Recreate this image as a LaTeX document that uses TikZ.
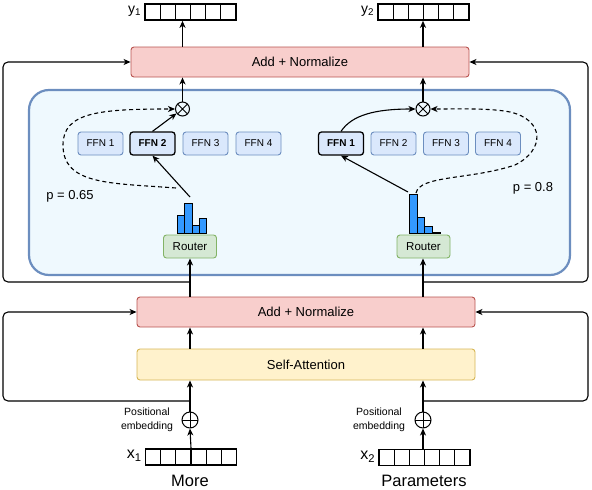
\documentclass[tikz,border=0pt]{standalone}
\usepackage{fontspec}
\setmainfont{Liberation Sans}
\usetikzlibrary{arrows.meta,calc}
\definecolor{redfill}{HTML}{F8CECC}\definecolor{reddraw}{HTML}{B85450}
\definecolor{yelfill}{HTML}{FFF2CC}\definecolor{yeldraw}{HTML}{D6B656}
\definecolor{grnfill}{HTML}{D5E8D4}\definecolor{grndraw}{HTML}{82B366}
\definecolor{bluefill}{HTML}{DAE8FC}\definecolor{bluedraw}{HTML}{6C8EBF}
\definecolor{contfill}{HTML}{EFF9FE}\definecolor{barfill}{HTML}{3399FF}
\begin{document}
\begin{tikzpicture}[x=1pt,y=-1pt,
  box/.style={rectangle,rounded corners=3pt,line width=0.9pt,minimum height=30pt,minimum width=338pt,inner sep=0pt,font=\fontsize{13}{15}\selectfont},
  addbox/.style={box,fill=redfill,draw=reddraw},
  attbox/.style={box,fill=yelfill,draw=yeldraw,minimum height=31pt},
  router/.style={rectangle,rounded corners=3pt,fill=grnfill,draw=grndraw,line width=0.9pt,minimum width=53pt,minimum height=23pt,inner sep=0pt,font=\fontsize{11.5}{13}\selectfont},
  ffn/.style={rectangle,rounded corners=3pt,fill=bluefill,draw=bluedraw,line width=0.9pt,minimum width=45pt,minimum height=23pt,inner sep=0pt,font=\fontsize{10}{12}\selectfont},
  ffnsel/.style={ffn,draw=black,line width=1.3pt,font=\fontsize{10}{12}\selectfont\bfseries},
  vec/.style={rectangle,draw=black,line width=1.6pt,minimum width=91pt,minimum height=16pt,inner sep=0pt,
    path picture={\foreach \i in {1,...,5}{\draw[line width=1.2pt] ($(path picture bounding box.south west)!\i/6!(path picture bounding box.south east)$) -- ($(path picture bounding box.north west)!\i/6!(path picture bounding box.north east)$);}}},
  otimesn/.style={circle,draw=black,line width=1pt,minimum size=14pt,inner sep=0pt,
    path picture={\draw[line width=1pt] (path picture bounding box.north west) -- (path picture bounding box.south east) (path picture bounding box.north east) -- (path picture bounding box.south west);}},
  oplusn/.style={circle,draw=black,line width=1pt,minimum size=16pt,inner sep=0pt,
    path picture={\draw[line width=1pt] (path picture bounding box.north) -- (path picture bounding box.south) (path picture bounding box.west) -- (path picture bounding box.east);}},
  conn/.style={line width=1.1pt,-{Stealth[length=7pt,width=6pt,inset=2pt]}},
  loopl/.style={line width=1.1pt,rounded corners=5pt,-{Stealth[length=7pt,width=6pt,inset=2pt]}},
  dashconn/.style={conn,dashed,dash pattern=on 4pt off 3pt},
  bar/.style={fill=barfill,draw=black,line width=0.8pt},
  lbl/.style={inner sep=0pt}
]
\useasboundingbox (0,0) rectangle (592,490);
% container
\draw[fill=contfill,draw=bluedraw,line width=2.2pt,rounded corners=20pt] (29,90) rectangle (570,275);
% boxes
\node[addbox] (topadd) at (300,62) {Add + Normalize};
\node[addbox] (lowadd) at (306,312) {Add + Normalize};
\node[attbox] (selfatt) at (306,364.5) {Self-Attention};
\node[router] (routerL) at (190,246.5) {Router};
\node[router] (routerR) at (423.5,246.5) {Router};
\node[ffn] (fL1) at (100.5,143.5) {FFN 1};
\node[ffnsel] (fL2) at (152.5,143.5) {FFN 2};
\node[ffn] (fL3) at (205.5,143.5) {FFN 3};
\node[ffn] (fL4) at (258.5,143.5) {FFN 4};
\node[ffnsel] (fR1) at (341,143.5) {FFN 1};
\node[ffn] (fR2) at (393.5,143.5) {FFN 2};
\node[ffn] (fR3) at (446,143.5) {FFN 3};
\node[ffn] (fR4) at (498,143.5) {FFN 4};
\node[otimesn] (otL) at (182.5,109) {};
\node[otimesn] (otR) at (423,109) {};
\node[vec] (y1vec) at (190.5,12) {};
\node[vec] (y2vec) at (423.5,12) {};
\node[vec] (x1vec) at (191,457) {};
\node[vec] (x2vec) at (424.5,457.5) {};
\node[oplusn] (opL) at (190,420) {};
\node[oplusn] (opR) at (423,420) {};
% labels
\node[lbl,anchor=east,font=\fontsize{14}{16}\selectfont] (y1lab) at ([xshift=-3pt,yshift=1pt]y1vec.west) {y\textsubscript{1}};
\node[lbl,anchor=east,font=\fontsize{14}{16}\selectfont] (y2lab) at ([xshift=-3pt,yshift=1pt]y2vec.west) {y\textsubscript{2}};
\node[lbl,anchor=east,font=\fontsize{16}{18}\selectfont] (x1lab) at ([xshift=-3pt,yshift=1pt]x1vec.west) {x\textsubscript{1}};
\node[lbl,anchor=east,font=\fontsize{16}{18}\selectfont] (x2lab) at ([xshift=-3pt,yshift=1pt]x2vec.west) {x\textsubscript{2}};
\node[lbl,font=\fontsize{16.5}{18}\selectfont] (more) at (190,481) {More};
\node[lbl,font=\fontsize{16.5}{18}\selectfont] (params) at (424,481) {Parameters};
\node[lbl,align=center,font=\fontsize{10.5}{14}\selectfont] (peL) at (147,420) {Positional\\embedding};
\node[lbl,align=center,font=\fontsize{10.5}{14}\selectfont] (peR) at (379,420) {Positional\\embedding};
\node[lbl,font=\fontsize{13}{15}\selectfont] (pL) at (70,196) {p = 0.65};
\node[lbl,font=\fontsize{13}{15}\selectfont] (pR) at (533,188) {p = 0.8};
% histograms
\draw[bar] (177,233) rectangle (184.5,215);
\draw[bar] (184.5,233) rectangle (192,203);
\draw[bar] (192,233) rectangle (199,225);
\draw[bar] (199,233) rectangle (206,218);
\draw[bar] (409,233) rectangle (417,194);
\draw[bar] (417,233) rectangle (424,217);
\draw[bar] (424,233) rectangle (432,226);
\draw[bar] (432,233) rectangle (440,232);
\coordinate (hL) at (190,197);
\coordinate (hLd) at (176,188);
\coordinate (hR) at (408,192);
\coordinate (hRd) at (416,193);
% bottom connectors
\draw[conn] (x1vec.north) -- (opL.south);
\draw[conn] (x2vec.north -| opR) -- (opR.south);
\draw[conn] (opL.north) -- (opL |- selfatt.south);
\draw[conn] (opR.north) -- (opR |- selfatt.south);
\draw[conn] (opL |- selfatt.north) -- (opL |- lowadd.south);
\draw[conn] (opR |- selfatt.north) -- (opR |- lowadd.south);
\draw[conn] (opL |- lowadd.north) -- (routerL.south);
\draw[conn] (opR |- lowadd.north) -- (routerR.south -| opR);
\coordinate (jLb) at (190,401);
\coordinate (jRb) at (423,401);
\coordinate (jLt) at (190,282);
\coordinate (jRt) at (423,282);
\draw[loopl] (jLb) -- (3,401) -- (3,312) -- (lowadd.west);
\draw[loopl] (jRb) -- (588,401) -- (588,312) -- (lowadd.east);
\draw[loopl] (jLt) -- (3,282) -- (3,62) -- (topadd.west);
\draw[loopl] (jRt) -- (588,282) -- (588,62) -- (topadd.east);
% top connectors
\draw[conn] (otL.north) -- (otL |- topadd.south);
\draw[conn] (otR.north) -- (otR |- topadd.south);
\draw[conn] (otL |- topadd.north) -- (otL |- y1vec.south);
\draw[conn] (otR |- topadd.north) -- (otR |- y2vec.south);
% routing
\draw[conn] (hL) -- (fL2.south);
\draw[conn] (fL2.north) -- (otL);
\draw[dashconn] (hLd) .. controls (110,183) and (63,185) .. (63,145) .. controls (63,112) and (100,109) .. (otL.west);
\draw[conn] (hR) -- (fR1.south);
\draw[conn] (fR1.north) .. controls (352,115) and (375,109) .. (otR.west);
\draw[dashconn] (hRd) .. controls (420,175) and (470,180) .. (515,165) .. controls (545,150) and (545,120) .. (510,112) .. controls (490,108) and (460,109) .. (otR.east);
\end{tikzpicture}
\end{document}
